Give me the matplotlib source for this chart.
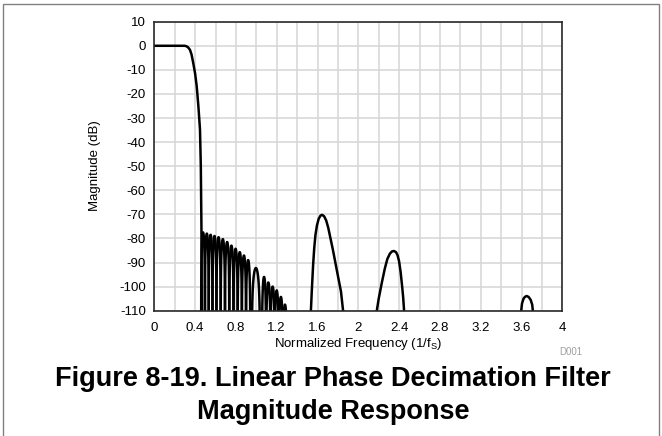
import numpy as np
import matplotlib
matplotlib.use('Agg')
import matplotlib.pyplot as plt
from matplotlib.patches import Rectangle

plt.rcParams['font.family'] = ['Liberation Sans', 'DejaVu Sans']
plt.rcParams['axes.unicode_minus'] = False

# passband + transition band
pass_f = [0.0, 0.30, 0.315, 0.33, 0.35, 0.365, 0.382, 0.40, 0.416, 0.432, 0.448, 0.456, 0.462, 0.466]
pass_db = [0.0, 0.0, -0.2, -0.6, -1.7, -3.6, -7.2, -11.5, -16.9, -25.0, -34.8, -50.0, -75.0, -112.0]

# stopband ripple lobes: centre, width, peak level
lobe_center = [0.478, 0.515, 0.552, 0.590, 0.630, 0.672, 0.714, 0.756, 0.797, 0.838,
               0.879, 0.920, 0.996, 1.076, 1.118, 1.160, 1.200, 1.241, 1.281]
lobe_width = [0.037, 0.037, 0.037, 0.039, 0.041, 0.042, 0.042, 0.041, 0.041, 0.041,
              0.041, 0.042, 0.080, 0.040, 0.042, 0.042, 0.040, 0.041, 0.040]
lobe_peak = [-77.5, -78.0, -78.5, -79.0, -79.5, -80.3, -81.5, -83.0, -84.3, -85.7,
             -87.1, -89.0, -92.3, -96.0, -98.3, -100.0, -101.6, -104.3, -107.5]

# image lobes
img1_f = [1.533, 1.545, 1.557, 1.568, 1.580, 1.595, 1.612, 1.630, 1.645, 1.665,
          1.685, 1.705, 1.725, 1.750, 1.775, 1.800, 1.830, 1.856]
img1_db = [-112, -101.0, -91.0, -84.0, -78.5, -74.5, -71.8, -70.5, -70.2, -70.8,
           -72.5, -75.5, -79.5, -84.5, -90.0, -95.5, -102.0, -112]
img2_f = [2.174, 2.200, 2.230, 2.260, 2.285, 2.310, 2.330, 2.350, 2.370, 2.385,
          2.400, 2.415, 2.430, 2.440, 2.452]
img2_db = [-112, -105.0, -98.5, -92.5, -88.5, -86.3, -85.4, -85.2, -85.7, -87.0,
           -89.5, -94.0, -100.0, -104.5, -112]
img3_f = [3.592, 3.605, 3.620, 3.635, 3.651, 3.670, 3.690, 3.705, 3.716]
img3_db = [-112, -107.0, -105.0, -104.2, -103.9, -104.3, -105.5, -107.5, -112]

xticks = [0, 0.4, 0.8, 1.2, 1.6, 2.0, 2.4, 2.8, 3.2, 3.6, 4.0]
xtick_labels = ['0', '0.4', '0.8', '1.2', '1.6', '2', '2.4', '2.8', '3.2', '3.6', '4']
yticks = [10, 0, -10, -20, -30, -40, -50, -60, -70, -80, -90, -100, -110]
ytick_labels = [str(v) for v in yticks]

fig = plt.figure(figsize=(6.62, 4.36), dpi=100)
ax = fig.add_axes([154.3 / 662, 1 - 310.7 / 436, 408 / 662, 289 / 436])

line_kw = dict(color='black', lw=1.8, solid_joinstyle='round', solid_capstyle='round')
ax.plot(pass_f, pass_db, **line_kw)
for c, w, p in zip(lobe_center, lobe_width, lobe_peak):
    t = np.linspace(0.0005, 0.9995, 120)
    ax.plot(c - w / 2 + w * t, p + 20 * np.log10(np.sin(np.pi * t)), **line_kw)
ax.plot(img1_f, img1_db, **line_kw)
ax.plot(img2_f, img2_db, **line_kw)
ax.plot(img3_f, img3_db, **line_kw)

ax.set_xlim(0, 4)
ax.set_ylim(-110, 10)
ax.set_xticks(xticks)
ax.set_xticklabels(xtick_labels)
ax.set_xticks(np.arange(0, 4.01, 0.2), minor=True)
ax.set_yticks(yticks)
ax.set_yticklabels(ytick_labels)
ax.tick_params(which='both', length=0, labelsize=9.5, colors='black')
ax.tick_params(axis='x', pad=8)
ax.tick_params(axis='y', pad=6)
ax.grid(True, which='both', color='#d6d6d6', lw=1.1)
ax.set_axisbelow(True)
for s in ax.spines.values():
    s.set_color('#2a2a2a')
    s.set_linewidth(1.2)
    s.set_zorder(5)

fig.text(95 / 662, 1 - 166 / 436, 'Magnitude (dB)', rotation=90, ha='center', va='center', fontsize=9.5)
fig.text(358 / 662, 1 - 344 / 436, 'Normalized Frequency (1/f$_\\mathregular{S}$)', ha='center', va='center', fontsize=9.5)
fig.text(571 / 662, 1 - 352 / 436, 'D001', ha='center', va='center', fontsize=7, color='#a0a0a0')
fig.text(333 / 662, 1 - 379 / 436, 'Figure 8-19. Linear Phase Decimation Filter', ha='center', va='center',
         fontsize=19.5, fontweight='bold')
fig.text(333 / 662, 1 - 412 / 436, 'Magnitude Response', ha='center', va='center',
         fontsize=19.5, fontweight='bold')

fig.patches.append(Rectangle((3 / 662, -0.05), 656 / 662, 1.05 - 4.5 / 436, transform=fig.transFigure,
                             fill=False, edgecolor='#808080', lw=1.0))

fig.savefig('out.png', dpi=100)
